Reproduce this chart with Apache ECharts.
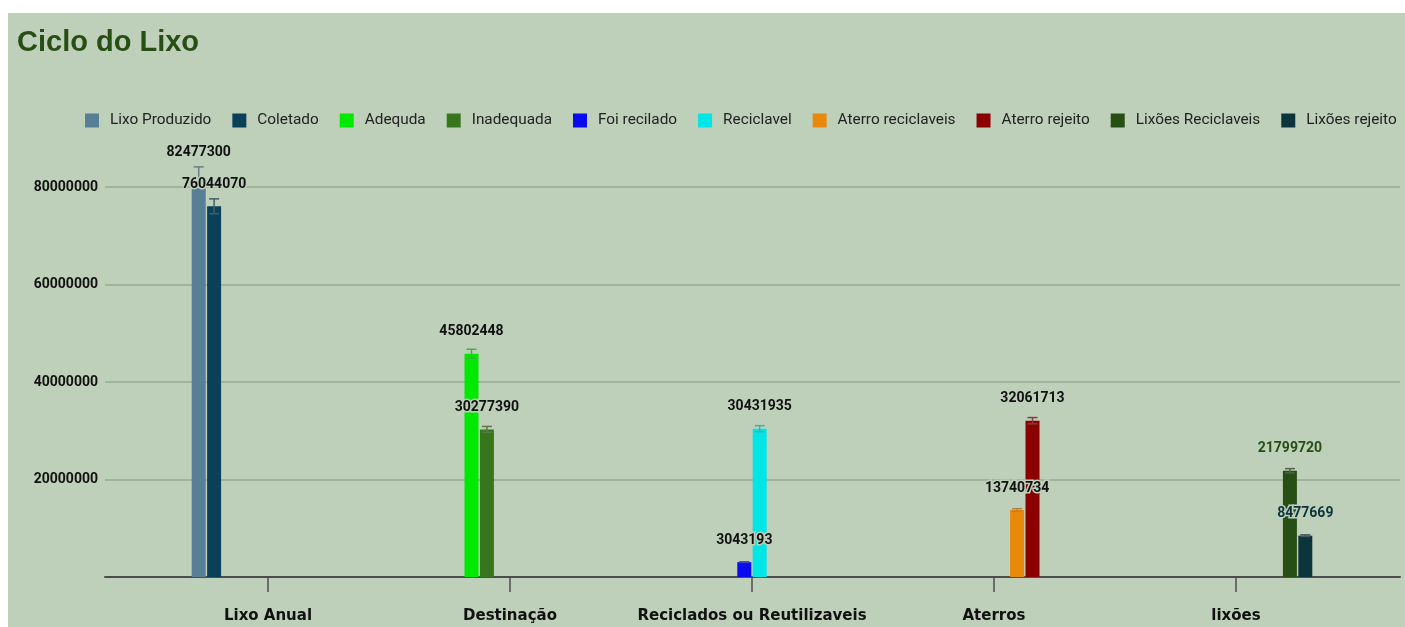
<!DOCTYPE html>
<html>
<head>
<meta charset="utf-8">
<script src="https://cdn.jsdelivr.net/npm/echarts@6/dist/echarts.min.js"></script>
<style>
  html, body { margin: 0; padding: 0; background: #ffffff; }
  #bg { position: absolute; left: 8px; top: 13px; width: 1397px; height: 614px; background: #bed0ba; }
  #main { position: absolute; left: 0; top: 0; width: 1405px; height: 627px; }
</style>
</head>
<body>
<div id="bg"></div>
<div id="main"></div>
<script>
// ---- DATA ----
const categories = ['Lixo Anual', 'Destinação', 'Reciclados ou Reutilizaveis', 'Aterros', 'lixões'];
const seriesNames = ['Lixo Produzido', 'Coletado', 'Adequda', 'Inadequada', 'Foi recilado',
  'Reciclavel', 'Aterro reciclaveis', 'Aterro rejeito', 'Lixões Reciclaveis', 'Lixões rejeito'];
const lixoProduzido      = [82477300, null, null, null, null];
const coletado           = [76044070, null, null, null, null];
const adequda            = [null, 45802448, null, null, null];
const inadequada         = [null, 30277390, null, null, null];
const foiRecilado        = [null, null, 3043193, null, null];
const reciclavel         = [null, null, 30431935, null, null];
const aterroReciclaveis  = [null, null, null, 13740734, null];
const aterroRejeito      = [null, null, null, 32061713, null];
const lixoesReciclaveis  = [null, null, null, null, 21799720];
const lixoesRejeito      = [null, null, null, null, 8477669];
const yTicks = [0, 20000000, 40000000, 60000000, 80000000];
const errorFraction = 0.02;

// ---- STYLE ----
const seriesData = [lixoProduzido, coletado, adequda, inadequada, foiRecilado,
  reciclavel, aterroReciclaveis, aterroRejeito, lixoesReciclaveis, lixoesRejeito];
const colors = ['#587f96', '#0b4158', '#00ea00', '#38761d', '#0a0aee',
  '#00e6e6', '#e8890c', '#8b0000', '#274e13', '#0c343d'];
const labelColors = ['#111', '#111', '#111', '#111', '#111',
  '#111', '#111', '#111', '#274e13', '#0c343d'];
const BG = '#bed0ba';
const BAR_W = 14, BAR_GAP = 0.1;
const stride = BAR_W * (1 + BAR_GAP);
const nSeries = seriesNames.length;

function mix(c1, c2, t) {
  const a = echarts.color.parse(c1), b = echarts.color.parse(c2);
  return 'rgb(' + [0,1,2].map(i => Math.round(a[i]*(1-t) + b[i]*t)).join(',') + ')';
}

const chart = echarts.init(document.getElementById('main'), null, { renderer: 'canvas' });

const barSeries = seriesNames.map((name, i) => ({
  name: name,
  type: 'bar',
  xAxisIndex: 1,
  yAxisIndex: 1,
  barWidth: BAR_W,
  barGap: (BAR_GAP * 100) + '%',
  itemStyle: { color: colors[i] },
  data: seriesData[i],
  z: 2
}));

const errData = [];
seriesData.forEach((arr, s) => arr.forEach((v, c) => { if (v != null) errData.push([c, v, s]); }));

const errSeries = {
  type: 'custom',
  name: '__err',
  xAxisIndex: 1,
  yAxisIndex: 1,
  clip: false,
  z: 10,
  data: errData,
  renderItem: function (params, api) {
    const c = api.value(0), v = api.value(1), s = api.value(2);
    const base = api.coord([c, v]);
    const x = base[0] + (s - (nSeries - 1) / 2) * stride;
    const yV = base[1];
    const yHi = api.coord([c, v * (1 + errorFraction)])[1];
    const yLo = api.coord([c, v * (1 - errorFraction)])[1];
    const ec = mix(colors[s], '#7a7a7a', 0.5);
    const hw = 5;
    const ls = { stroke: ec, lineWidth: 1.5 };
    return {
      type: 'group',
      children: [
        { type: 'line', shape: { x1: x, y1: yHi, x2: x, y2: yLo }, style: ls },
        { type: 'line', shape: { x1: x - hw, y1: yHi, x2: x + hw, y2: yHi }, style: ls },
        { type: 'line', shape: { x1: x - hw, y1: yLo, x2: x + hw, y2: yLo }, style: ls },
        { type: 'text', z2: 20, style: {
            text: String(v), x: x, y: yV - 15, align: 'center', verticalAlign: 'bottom',
            font: 'bold 14px Roboto', fill: labelColors[s], stroke: BG, lineWidth: 3
        } }
      ]
    };
  }
};

chart.setOption({
  animation: false,
  backgroundColor: 'transparent',
  title: {
    text: 'Ciclo do Lixo',
    left: 17, top: 28, padding: 0,
    textStyle: { fontFamily: 'Liberation Sans', fontWeight: 'bold', fontSize: 29, color: '#274e13' }
  },
  legend: {
    data: seriesNames,
    left: 85, top: 113, width: 1330, padding: 0,
    icon: 'rect', itemWidth: 14, itemHeight: 14, itemGap: 21,
    textStyle: { fontFamily: 'Roboto', fontSize: 15.35, color: '#222', padding: [0, 0, 0, 6] }
  },
  grid: [
    { left: 105, right: 5, top: 187, bottom: 50 },
    { left: 147, right: 48, top: 187, bottom: 50 }
  ],
  xAxis: [
    { gridIndex: 0, type: 'category', data: [''],
      axisLine: { lineStyle: { color: '#4d4d4d', width: 2 } },
      axisTick: { show: false }, axisLabel: { show: false }, splitLine: { show: false } },
    { gridIndex: 1, type: 'category', data: categories,
      axisLine: { show: false },
      axisTick: { show: true, alignWithLabel: true, length: 15, lineStyle: { color: '#4d4d4d', width: 1.5 } },
      axisLabel: { interval: 0, margin: 32, fontFamily: 'DejaVu Sans', fontWeight: 'bold', fontSize: 15, color: '#111' } }
  ],
  yAxis: [
    { gridIndex: 0, type: 'value', min: yTicks[0], max: yTicks[yTicks.length - 1], interval: yTicks[1] - yTicks[0],
      axisLine: { show: false }, axisTick: { show: false },
      axisLabel: { showMinLabel: false, margin: 7, fontFamily: 'Roboto', fontWeight: 'bold', fontSize: 14, color: '#111',
        formatter: v => String(v) },
      splitLine: { lineStyle: { color: '#97aa93', width: 1.5 } } },
    { gridIndex: 1, type: 'value', min: yTicks[0], max: yTicks[yTicks.length - 1], interval: yTicks[1] - yTicks[0],
      show: false, splitLine: { show: false } }
  ],
  series: barSeries.concat([errSeries])
});
</script>
</body>
</html>
